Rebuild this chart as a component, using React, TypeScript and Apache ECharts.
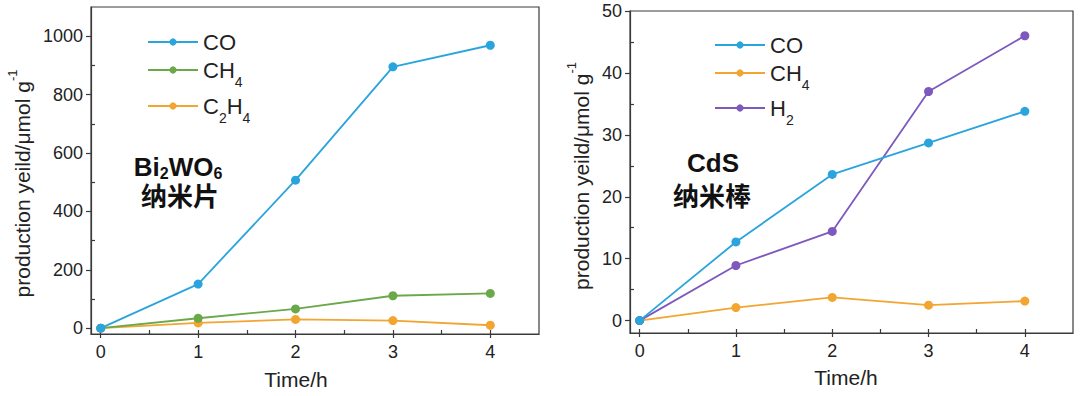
import React, { useEffect, useRef } from "react";
import * as echarts from "echarts";

const time = [0, 1, 2, 3, 4];
const bwCO = [0, 151, 507, 895, 969];
const bwCH4 = [0, 34, 66, 111, 119];
const bwC2H4 = [0, 18, 30, 26, 10];
const cdsCO = [0, 12.7, 23.6, 28.7, 33.8];
const cdsCH4 = [0, 2.1, 3.75, 2.5, 3.15];
const cdsH2 = [0, 8.9, 14.4, 37.0, 46.0];
const bwYTicks = [0, 200, 400, 600, 800, 1000];
const bwYMinor = [100, 300, 500, 700, 900];
const cdsYTicks = [0, 10, 20, 30, 40, 50];
const cdsYMinor = [5, 15, 25, 35, 45];
const xTicks = [0, 1, 2, 3, 4];
const xMinor = [0.5, 1.5, 2.5, 3.5];

const FONT = "'Liberation Sans', Arial, 'Noto Sans CJK SC', sans-serif";
const AX = "#3a3a3a";
const TXT = "#222";
const BLUE = "#2aa4dc";
const GREEN = "#6aa84a";
const ORANGE = "#f2a531";
const PURPLE = "#7d58bd";

const legendLabels: Record<string, string> = {
  "CO-a": "CO",
  "CH4-a": "CH{sub|4}",
  "C2H4-a": "C{sub|2}H{sub|4}",
  "CO-b": "CO",
  "CH4-b": "CH{sub|4}",
  "H2-b": "H{sub|2}",
};

function pairs(ys: number[]) {
  return time.map((t, i) => [t, ys[i]]);
}

const plain = (v: number) => String(v);

function mainX(grid: number, nameGap: number, namePad: number[]) {
  return {
    type: "value",
    gridIndex: grid,
    min: -0.1,
    max: 4.5,
    position: "bottom",
    axisLine: { show: true, onZero: false, lineStyle: { color: AX, width: 1.2 } },
    axisTick: { show: true, inside: false, length: 4, customValues: xTicks, lineStyle: { color: AX, width: 1.2 } },
    axisLabel: { customValues: xTicks, formatter: plain, fontSize: 18, color: TXT, margin: 9, fontFamily: FONT },
    splitLine: { show: false },
    name: "Time/h",
    nameLocation: "middle",
    nameGap,
    nameTextStyle: { fontSize: 21, color: TXT, fontFamily: FONT, padding: namePad },
  };
}

function overlayX(grid: number) {
  return {
    type: "value",
    gridIndex: grid,
    min: -0.1,
    max: 4.5,
    position: "bottom",
    axisLine: { show: false, onZero: false },
    axisTick: { show: true, inside: true, length: 4, customValues: [...xTicks, ...xMinor], lineStyle: { color: AX, width: 1.2 } },
    axisLabel: { show: false },
    splitLine: { show: false },
  };
}

function mainY(grid: number, min: number, max: number, ticks: number[], nameGap: number, namePad: number[]) {
  return {
    type: "value",
    gridIndex: grid,
    min,
    max,
    position: "left",
    axisLine: { show: true, onZero: false, lineStyle: { color: AX, width: 1.2 } },
    axisTick: { show: true, inside: false, length: 5, customValues: ticks, lineStyle: { color: AX, width: 1.2 } },
    axisLabel: { customValues: ticks, formatter: plain, fontSize: 18, color: TXT, margin: 8, fontFamily: FONT },
    splitLine: { show: false },
    name: "production yeild/μmol g{sup|-1}",
    nameLocation: "middle",
    nameRotate: 90,
    nameGap,
    nameTextStyle: {
      fontSize: 21,
      color: TXT,
      fontFamily: FONT,
      lineHeight: 24,
      padding: namePad,
      rich: { sup: { fontSize: 13, lineHeight: 14, padding: [0, 0, 20, 0], color: TXT, fontFamily: FONT } },
    },
  };
}

function overlayY(grid: number, min: number, max: number, minor: number[]) {
  return {
    type: "value",
    gridIndex: grid,
    min,
    max,
    position: "left",
    axisLine: { show: false, onZero: false },
    axisTick: { show: true, inside: true, length: 4, customValues: minor, lineStyle: { color: AX, width: 1.2 } },
    axisLabel: { show: false },
    splitLine: { show: false },
  };
}

function leg(name: string, left: number, top: number) {
  return {
    data: [name],
    left,
    top,
    padding: 0,
    itemWidth: 50,
    itemHeight: 9,
    itemGap: 0,
    selectedMode: false,
    formatter: (n: string) => legendLabels[n] || n,
    textStyle: {
      fontSize: 22,
      color: TXT,
      lineHeight: 24,
      fontFamily: FONT,
      rich: { sub: { fontSize: 14, lineHeight: 14, padding: [24, 0, 0, 0], color: TXT, fontFamily: FONT } },
    },
  };
}

function line(name: string, color: string, ys: number[], axis: number) {
  return {
    name,
    type: "line",
    xAxisIndex: axis,
    yAxisIndex: axis,
    data: pairs(ys),
    symbol: "circle",
    symbolSize: 9,
    lineStyle: { color, width: 1.8 },
    itemStyle: { color },
  };
}

function label(x: number, y: number, text: string) {
  return {
    type: "text",
    x,
    y,
    z: 10,
    style: {
      text,
      align: "center",
      verticalAlign: "middle",
      fontSize: 26,
      fontWeight: "bold",
      fontFamily: FONT,
      fill: "#111",
      rich: { sub: { fontSize: 16, fontWeight: "bold", padding: [12, 0, 0, 0], fill: "#111", fontFamily: FONT } },
    },
  };
}

export default function App() {
  const ref = useRef<HTMLDivElement>(null);
  useEffect(() => {
    if (!ref.current) return;
    const chart = echarts.init(ref.current, undefined, { renderer: "svg" });
    chart.setOption({
      animation: false,
      backgroundColor: "#ffffff",
      grid: [
        { left: 91, top: 7, width: 448, height: 327, show: true, borderColor: AX, borderWidth: 1.2 },
        { left: 630, top: 11, width: 443, height: 322, show: true, borderColor: AX, borderWidth: 1.2 },
      ],
      xAxis: [mainX(0, 35, [0, 38, 0, 0]), overlayX(0), mainX(1, 34, [0, 11, 0, 0]), overlayX(1)],
      yAxis: [
        mainY(0, -20, 1100, bwYTicks, 52, [0, 26, 0, 0]),
        overlayY(0, -20, 1100, bwYMinor),
        mainY(1, -2, 50, cdsYTicks, 37, [0, 8, 0, 0]),
        overlayY(1, -2, 50, cdsYMinor),
      ],
      legend: [
        leg("CO-a", 147, 42 - 12),
        leg("CH4-a", 147, 70 - 19),
        leg("C2H4-a", 147, 106 - 19),
        leg("CO-b", 714, 45 - 12),
        leg("CH4-b", 714, 73 - 19),
        leg("H2-b", 714, 108 - 19),
      ],
      series: [
        line("C2H4-a", ORANGE, bwC2H4, 0),
        line("CH4-a", GREEN, bwCH4, 0),
        line("CO-a", BLUE, bwCO, 0),
        line("CH4-b", ORANGE, cdsCH4, 2),
        line("H2-b", PURPLE, cdsH2, 2),
        line("CO-b", BLUE, cdsCO, 2),
      ],
      graphic: [
        label(178, 167, "Bi{sub|2}WO{sub|6}"),
        label(180, 197, "纳米片"),
        label(713, 163, "CdS"),
        label(712, 197, "纳米棒"),
      ],
    });
    return () => chart.dispose();
  }, []);
  return <div ref={ref} style={{ position: "absolute", left: 0, top: 0, width: 1080, height: 396 }} />;
}
